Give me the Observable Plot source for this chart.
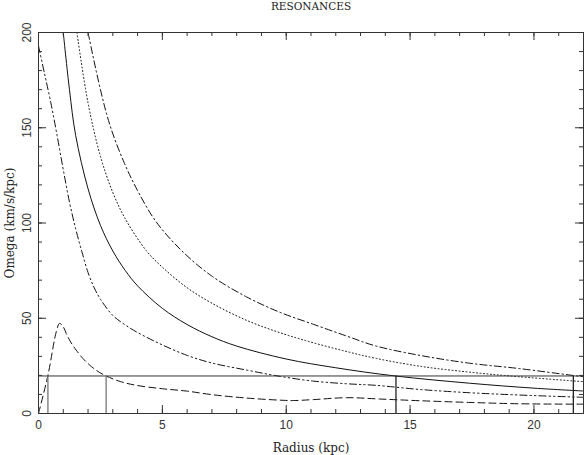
<!DOCTYPE html>
<html>
<head>
<meta charset="utf-8">
<script src="https://cdn.jsdelivr.net/npm/d3@7"></script>
<script src="https://cdn.jsdelivr.net/npm/@observablehq/plot@0.6"></script>
<style>
  html, body { margin: 0; padding: 0; background: #fff; }
  #chart svg { display: block; }
</style>
</head>
<body>
<div id="chart"></div>
<script>
// ---- data ----
const title = "RESONANCES";
const xLabel = "Radius (kpc)";
const yLabel = "Omega (km/s/kpc)";

// Omega (solid)
const rOmega = [1, 1.25, 1.5, 2, 2.5, 3, 3.5, 4, 5, 6, 7, 8, 10, 12, 14.4, 17.4, 20, 22];
const vOmega = [200, 170, 146, 118, 98.8, 85.3, 75.1, 67, 55.2, 46.7, 40.3, 35.4, 28.6, 24, 19.7, 15.9, 13.3, 11.8];

// Omega + kappa/4 (dotted)
const rPlusK4 = [1.55, 2, 2.5, 3, 3.5, 4.35, 5, 6, 7, 8.4, 9.75, 11.1, 12.45, 13.6, 15.4, 17.4, 19.4, 22];
const vPlusK4 = [200, 163, 135, 116, 102.3, 85.5, 76.8, 66, 57.9, 48.9, 42.4, 37.1, 32.5, 29, 24.8, 21.7, 19.3, 16.7];

// Omega + kappa/2 (dash-dot)
const rPlusK2 = [2, 2.5, 2.9, 3.45, 4, 4.75, 5.8, 7, 8.4, 9.75, 11.1, 12.45, 13.6, 15.4, 17.4, 19.4, 21.5, 22];
const vPlusK2 = [200, 170, 150.7, 131.9, 117, 100.6, 85.2, 72.1, 61.2, 53.1, 46.8, 40.6, 35.5, 30.5, 26.4, 23.6, 20.1, 19.3];

// Omega - kappa/4 (dash-dot-dot)
const rMinusK4 = [0, 0.25, 0.5, 0.75, 1, 1.25, 1.5, 1.75, 2, 2.25, 2.5, 3, 3.5, 4, 5, 6, 7, 8.4, 9.75, 11.1, 12.45, 13.6, 15.4, 17.4, 19.4, 22];
const vMinusK4 = [193, 178, 163, 146, 128, 111, 97, 85, 74, 66, 60, 51.5, 46.5, 42.5, 36, 30.5, 26.5, 22.8, 19.5, 17, 15.6, 14.8, 12.6, 10.9, 9.7, 8.5];

// Omega - kappa/2 (dashed)
const rMinusK2 = [0, 0.38, 0.72, 0.85, 1.0, 1.12, 1.3, 1.52, 1.8, 2.06, 2.35, 2.73, 3.3, 3.94, 5, 5.96, 7.06, 8.41, 9.75, 10.3, 11.1, 12.45, 13.78, 15.4, 17.42, 19.44, 22];
const vMinusK2 = [0, 20, 43, 47.3, 45.5, 42, 37.5, 33.3, 28.8, 25.5, 22.5, 19.7, 16.8, 14.8, 13, 11.8, 9.8, 8.1, 7.0, 6.8, 7.3, 8.3, 7.6, 6.7, 5.8, 5.1, 4.9];

// pattern speed and resonance radii
const patternSpeed = 19.7;
const resonanceRadii = [0.38, 2.73, 14.43, 21.59];
const resonanceColors = ["#777", "#777", "#222", "#222"];

// axis ticks
const xMajor = [0, 5, 10, 15, 20];
const xMinor = d3.range(0, 23, 1);
const yMajor = [0, 50, 100, 150, 200];
const yMinor = d3.range(0, 201, 10);

// ---- layout ----
const width = 587, height = 455;
const mL = 38, mR = 4, mT = 32, mB = 42;
const W = width - mL - mR, H = height - mT - mB;
const minorLen = 4, majorLen = 8;

const toRows = (rs, vs) => rs.map((r, i) => ({r, v: vs[i]}));
const series = [
  {rows: toRows(rOmega, vOmega), dash: null},
  {rows: toRows(rPlusK4, vPlusK4), dash: "1,2.5"},
  {rows: toRows(rPlusK2, vPlusK2), dash: "7,3,1.5,3"},
  {rows: toRows(rMinusK4, vMinusK4), dash: "7,3,1.5,3,1.5,3"},
  {rows: toRows(rMinusK2, vMinusK2), dash: "7,4"}
];

const serif = "'DejaVu Serif', serif";
const sans = "'Liberation Sans', 'DejaVu Sans', sans-serif";

const marks = [];
series.forEach(s => {
  marks.push(Plot.line(s.rows, {
    x: "r", y: "v", stroke: "#111", strokeWidth: 1,
    strokeDasharray: s.dash, curve: "catmull-rom", clip: true
  }));
});
marks.push(
  Plot.ruleY([patternSpeed], {stroke: "#333", strokeWidth: 1}),
  Plot.ruleX(resonanceRadii, {x: d => d, y1: 0, y2: patternSpeed,
    stroke: (d, i) => resonanceColors[i], strokeWidth: 1.3}),
  // inward ticks on all four sides
  Plot.tickX(xMinor, {x: d => d, insetTop: H - minorLen, stroke: "#333"}),
  Plot.tickX(xMajor, {x: d => d, insetTop: H - majorLen, stroke: "#333"}),
  Plot.tickX(xMinor, {x: d => d, insetBottom: H - minorLen, stroke: "#333"}),
  Plot.tickX(xMajor, {x: d => d, insetBottom: H - majorLen, stroke: "#333"}),
  Plot.tickY(yMinor, {y: d => d, insetRight: W - minorLen, stroke: "#333"}),
  Plot.tickY(yMajor, {y: d => d, insetRight: W - majorLen, stroke: "#333"}),
  Plot.tickY(yMinor, {y: d => d, insetLeft: W - minorLen, stroke: "#333"}),
  Plot.tickY(yMajor, {y: d => d, insetLeft: W - majorLen, stroke: "#333"}),
  Plot.frame({stroke: "#333", strokeWidth: 1}),
  // tick labels
  Plot.text(xMajor, {x: d => d, frameAnchor: "bottom", dy: 12, text: d => String(d),
    fontFamily: sans, fontSize: 12, fill: "#333", lineAnchor: "middle"}),
  Plot.text(yMajor, {y: d => d, frameAnchor: "left", dx: -11, rotate: -90, text: d => String(d),
    fontFamily: sans, fontSize: 12, fill: "#333", lineAnchor: "middle", textAnchor: "middle"}),
  // axis titles and chart title
  Plot.text([xLabel], {frameAnchor: "bottom", dy: 35, text: d => d,
    fontFamily: serif, fontSize: 12, fill: "#222", lineAnchor: "middle"}),
  Plot.text([yLabel], {frameAnchor: "left", dx: -28, rotate: -90, text: d => d,
    fontFamily: serif, fontSize: 12, fill: "#222", lineAnchor: "middle", textAnchor: "middle"}),
  Plot.text([title], {frameAnchor: "top", dy: -26, text: d => d,
    fontFamily: serif, fontSize: 10.5, fill: "#222", lineAnchor: "middle"})
);

const chart = Plot.plot({
  width, height,
  marginLeft: mL, marginRight: mR, marginTop: mT, marginBottom: mB,
  x: {domain: [0, 22], axis: null},
  y: {domain: [0, 200], axis: null},
  style: {background: "#fff", overflow: "visible"},
  marks
});
document.getElementById("chart").appendChild(chart);
</script>
</body>
</html>
